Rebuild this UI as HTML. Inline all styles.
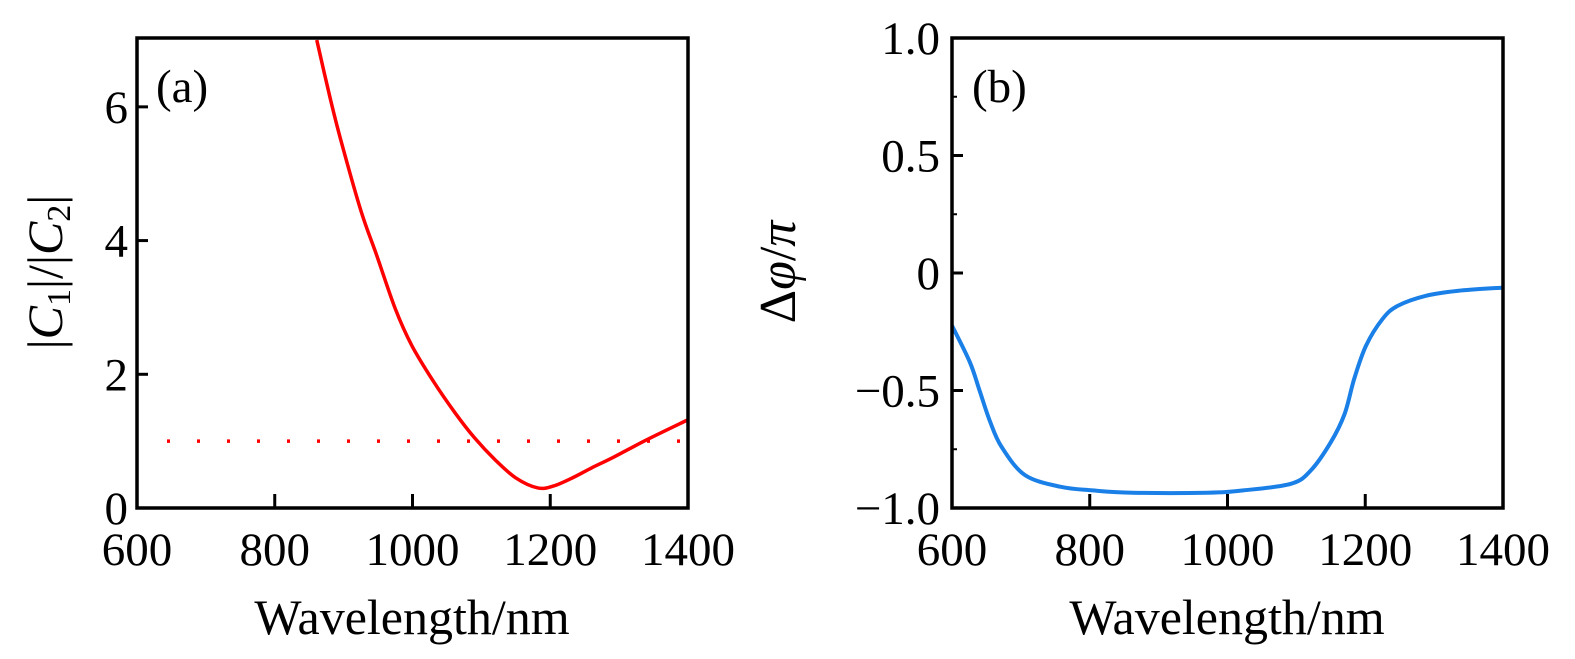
<!DOCTYPE html>
<html><head><meta charset="utf-8"><style>
html,body{margin:0;padding:0;background:#fff;}
svg{display:block;font-family:"Liberation Serif",serif;}
</style></head><body>
<svg id="chart" width="1575" height="659" viewBox="0 0 1575 659" xmlns="http://www.w3.org/2000/svg">
<g id="pa"></g>
<g id="pb"></g>
</svg>
<script>
const xTicks = [600, 800, 1000, 1200, 1400];
const aYTicks = [0, 2, 4, 6];
const bYTicks = [1.0, 0.5, 0, -0.5, -1.0];
const bYTickLabels = ["1.0", "0.5", "0", "\u22120.5", "\u22121.0"];
const bYMinor = [0.75, 0.25, -0.25, -0.75];
const aWavelength = [861, 880, 896, 925, 948, 975, 999, 1030, 1062, 1090, 1120, 1150, 1182, 1205, 1234, 1260, 1292, 1340, 1400];
const aRatio = [7.0, 6.15, 5.5, 4.45, 3.78, 2.98, 2.43, 1.9, 1.42, 1.05, 0.72, 0.45, 0.30, 0.33, 0.46, 0.6, 0.76, 1.02, 1.32];
const aReference = [1, 1];
const bWavelength = [600, 626, 640, 655, 672, 706, 758, 804, 862, 971, 1023, 1092, 1121, 1150, 1170, 1184, 1201, 1225, 1247, 1288, 1334, 1400];
const bPhase = [-0.224, -0.38, -0.50, -0.63, -0.74, -0.86, -0.91, -0.925, -0.935, -0.935, -0.925, -0.897, -0.84, -0.72, -0.6, -0.45, -0.31, -0.196, -0.14, -0.097, -0.076, -0.062];

const NS = "http://www.w3.org/2000/svg";
function mk(parent, tag, attrs, text) {
  const e = document.createElementNS(NS, tag);
  for (const k in attrs) e.setAttribute(k, attrs[k]);
  if (text !== undefined) e.textContent = text;
  parent.appendChild(e);
  return e;
}
function panel(L, R, T, B, xmin, xmax, ymin, ymax) {
  const sx = v => L + (v - xmin) / (xmax - xmin) * (R - L);
  const sy = v => B - (v - ymin) / (ymax - ymin) * (B - T);
  return {sx, sy};
}
function smooth(pts) {
  let d = 'M' + pts[0][0] + ',' + pts[0][1];
  for (let i = 0; i < pts.length - 1; i++) {
    const p0 = pts[Math.max(0, i - 1)], p1 = pts[i], p2 = pts[i + 1], p3 = pts[Math.min(pts.length - 1, i + 2)];
    const c1x = p1[0] + (p2[0] - p0[0]) / 6, c1y = p1[1] + (p2[1] - p0[1]) / 6;
    const c2x = p2[0] - (p3[0] - p1[0]) / 6, c2y = p2[1] - (p3[1] - p1[1]) / 6;
    d += ' C' + c1x + ',' + c1y + ' ' + c2x + ',' + c2y + ' ' + p2[0] + ',' + p2[1];
  }
  return d;
}
const TF = 47;

// Panel A
const ga = document.getElementById('pa');
const A = panel(137, 688, 38, 508, 600, 1400, 0, 7.03);
xTicks.forEach(v => {
  if (v > 600 && v < 1400) {
    const t = mk(ga, 'line', {x1: A.sx(v), x2: A.sx(v), y1: 508, y2: 494, stroke: '#000', 'stroke-width': 3});
    
    
  }
  const l = mk(ga, 'text', {x: A.sx(v), y: 565, 'font-size': TF, 'text-anchor': 'middle'}, String(v));
  
  
});
aYTicks.forEach(v => {
  if (v > 0) {
    const t = mk(ga, 'line', {x1: 137, x2: 148, y1: A.sy(v), y2: A.sy(v), stroke: '#000', 'stroke-width': 3});
    
    
  }
  const l = mk(ga, 'text', {x: 128, y: A.sy(v) + 16, 'font-size': TF, 'text-anchor': 'end'}, String(v));
  
  
});
const refLine = mk(ga, 'line', {x1: A.sx(600) + 30, x2: A.sx(1400), y1: A.sy(aReference[0]), y2: A.sy(aReference[1]), stroke: '#f00', 'stroke-width': 3.5, 'stroke-dasharray': '3 27'});


const pa = mk(ga, 'path', {d: smooth(aWavelength.map((w, i) => [A.sx(w), A.sy(aRatio[i])])), fill: 'none', stroke: '#f00', 'stroke-width': 3.5});


const fa = mk(ga, 'rect', {x: 137, y: 38, width: 551, height: 470, fill: 'none', stroke: '#000', 'stroke-width': 3.5});


const la = mk(ga, 'text', {x: 156, y: 102, 'font-size': TF}, '(a)');


const xta = mk(ga, 'text', {x: 412, y: 634, 'font-size': 50, 'text-anchor': 'middle'}, 'Wavelength/nm');


const yta = mk(ga, 'text', {transform: 'translate(62,272) rotate(-90)', 'font-size': 50, 'text-anchor': 'middle'});


yta.innerHTML = '|<tspan font-style="italic">C</tspan><tspan font-size="34" dy="8">1</tspan><tspan dy="-8">|/|</tspan><tspan font-style="italic">C</tspan><tspan font-size="34" dy="8">2</tspan><tspan dy="-8">|</tspan>';

// Panel B
const gb = document.getElementById('pb');
const Bp = panel(952, 1503, 38, 508, 600, 1400, -1, 1);
xTicks.forEach(v => {
  if (v > 600 && v < 1400) {
    const t = mk(gb, 'line', {x1: Bp.sx(v), x2: Bp.sx(v), y1: 508, y2: 494, stroke: '#000', 'stroke-width': 3});
    
    
  }
  const l = mk(gb, 'text', {x: Bp.sx(v), y: 565, 'font-size': TF, 'text-anchor': 'middle'}, String(v));
  
  
});
bYTicks.forEach((v, i) => {
  if (v > -1 && v < 1) {
    const t = mk(gb, 'line', {x1: 952, x2: 963, y1: Bp.sy(v), y2: Bp.sy(v), stroke: '#000', 'stroke-width': 3});
    
    
  }
  const l = mk(gb, 'text', {x: 940, y: Bp.sy(v) + 16, 'font-size': TF, 'text-anchor': 'end'}, bYTickLabels[i]);
  
  
});
bYMinor.forEach(v => {
  const t = mk(gb, 'line', {x1: 952, x2: 957, y1: Bp.sy(v), y2: Bp.sy(v), stroke: '#000', 'stroke-width': 2});
  
  
});
const pb = mk(gb, 'path', {d: smooth(bWavelength.map((w, i) => [Bp.sx(w), Bp.sy(bPhase[i])])), fill: 'none', stroke: '#1a80e8', 'stroke-width': 4});


const fb = mk(gb, 'rect', {x: 952, y: 38, width: 551, height: 470, fill: 'none', stroke: '#000', 'stroke-width': 3.5});


const lb = mk(gb, 'text', {x: 972, y: 102, 'font-size': TF}, '(b)');


const xtb = mk(gb, 'text', {x: 1227, y: 634, 'font-size': 50, 'text-anchor': 'middle'}, 'Wavelength/nm');


const ytb = mk(gb, 'text', {transform: 'translate(795,272) rotate(-90)', 'font-size': 52, 'text-anchor': 'middle'});


ytb.innerHTML = '\u0394<tspan font-style="italic">\u03c6</tspan>/<tspan font-style="italic">\u03c0</tspan>';
</script>
</body></html>
